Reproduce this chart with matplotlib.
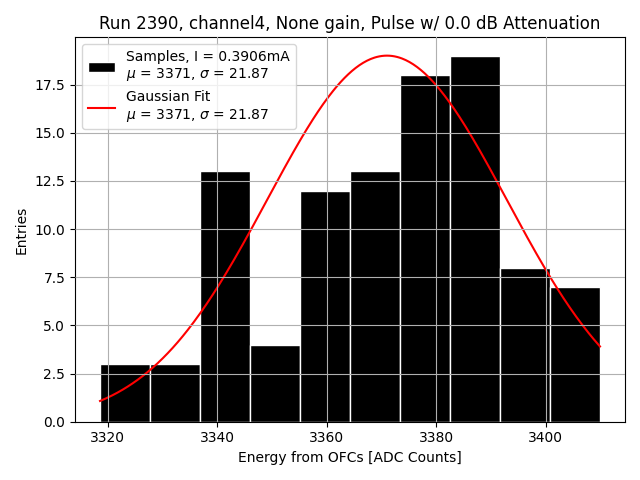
import numpy as np
import matplotlib
matplotlib.use("Agg")
import matplotlib.pyplot as plt

# Histogram data
bin_lo = 3318.6
bin_hi = 3409.9
counts = [3, 3, 13, 4, 12, 13, 18, 19, 8, 7]

# Gaussian fit parameters
fit_amp = 19.0
fit_mu = 3371.0
fit_sigma = 21.87

title = "Run 2390, channel4, None gain, Pulse w/ 0.0 dB Attenuation"
xlabel = "Energy from OFCs [ADC Counts]"
ylabel = "Entries"
label_samples = "Samples, I = 0.3906mA\n$\\mu$ = 3371, $\\sigma$ = 21.87"
label_fit = "Gaussian Fit\n$\\mu$ = 3371, $\\sigma$ = 21.87"

edges = np.linspace(bin_lo, bin_hi, len(counts) + 1)
centers = 0.5 * (edges[:-1] + edges[1:])

fig, ax = plt.subplots(figsize=(6.4, 4.8), dpi=100)
ax.hist(centers, bins=edges, weights=counts, color="black", edgecolor="white",
        label=label_samples)
xs = np.linspace(bin_lo, bin_hi, 400)
ax.plot(xs, fit_amp * np.exp(-(xs - fit_mu) ** 2 / (2 * fit_sigma ** 2)),
        color="red", label=label_fit)
ax.set_title(title)
ax.set_xlabel(xlabel)
ax.set_ylabel(ylabel)
ax.grid(True)
ax.set_axisbelow(False)
ax.legend(loc="upper left")
fig.tight_layout()
fig.savefig("out.png")
